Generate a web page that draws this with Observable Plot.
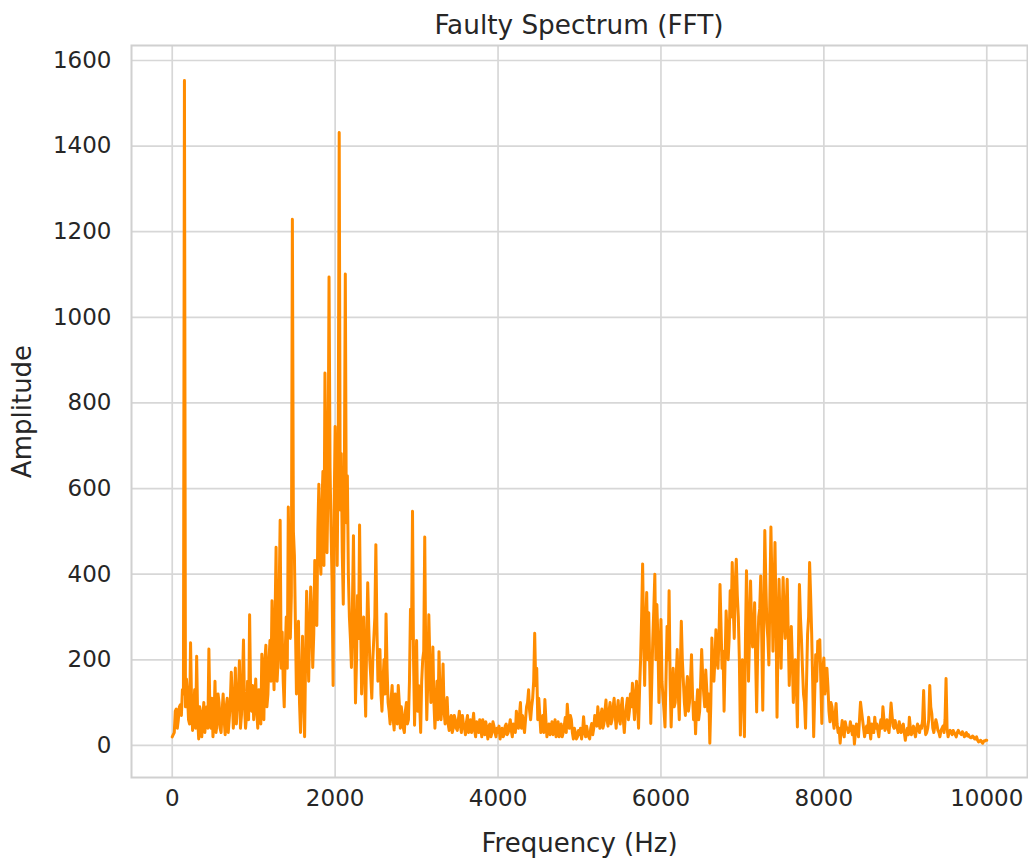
<!DOCTYPE html>
<html>
<head>
<meta charset="utf-8">
<script src="https://cdn.jsdelivr.net/npm/d3@7"></script>
<script src="https://cdn.jsdelivr.net/npm/@observablehq/plot@0.6"></script>
<style>
  html, body { margin: 0; padding: 0; background: #ffffff; }
  #wrap { width: 1028px; height: 863px; position: relative; overflow: hidden; }
  #title { height: 40px; position: relative; }
  #title span { position: absolute; left: 131px; width: 896px; top: 12px; text-align: center;
    font-family: "DejaVu Sans", sans-serif; font-size: 26.3px; color: #262626; line-height: 1; }
  #chart svg { display: block; }
</style>
</head>
<body>
<div id="wrap">
  <div id="title"><span>Faulty Spectrum (FFT)</span></div>
  <div id="chart"></div>
</div>
<script>
// Amplitude readings on a 25 Hz grid (0, 25, 50 ... Hz), one array per 1000 Hz band
const freqStep = 25;
const amp0to1k = [20,30,85,60,95,130,1553,155,60,240,35,130,208,15,75,60,30,90,225,40,
  20,150,50,100,30,120,25,110,60,171,40,181,90,198,70,246,40,150,305,80];
const amp1to2k = [60,155,40,110,213,60,234,120,245,338,130,463,200,526,265,90,300,557,250,1229,
  444,120,290,30,255,20,360,150,370,182,432,280,610,400,640,870,450,1094,500,140];
const amp2to3k = [745,420,1432,682,330,1101,630,300,182,490,99,350,515,120,300,68,380,200,110,250,
  469,150,224,80,200,307,100,50,140,36,90,140,40,70,30,100,60,318,547,47];
const amp3to4k = [245,140,30,200,487,60,305,100,230,40,150,219,60,190,50,112,35,70,40,60,
  35,80,30,50,25,70,40,30,75,20,45,60,20,40,55,15,50,30,45,20];
const amp4to5k = [30,15,40,25,50,30,60,20,45,80,40,100,70,30,90,130,60,110,262,180,
  110,30,70,107,20,50,40,25,60,35,20,50,30,65,96,40,60,15,30,20];
const amp5to6k = [25,15,67,20,30,15,51,40,60,90,40,85,50,106,45,100,60,110,40,105,
  50,110,30,90,60,120,145,60,150,40,200,424,140,357,310,51,250,400,329,100];
const amp6to7k = [294,114,43,278,361,43,180,100,224,60,290,150,70,161,100,212,60,27,130,80,
  224,120,176,80,5,251,150,270,180,376,180,80,314,200,361,427,250,435,300,24];
const amp7to8k = [200,20,408,150,384,230,333,78,300,396,82,502,286,188,510,220,474,66,388,180,
  392,250,388,140,278,100,200,43,376,247,120,40,260,427,263,20,212,243,247,51];
const amp8to9k = [204,150,137,55,90,40,98,30,5,58,20,43,30,55,25,3,50,20,101,60,
  20,45,66,15,40,66,50,20,60,90,35,60,30,99,45,58,40,55,30,50];
const amp9to10k = [12,40,66,25,45,20,50,30,40,128,25,40,140,74,30,60,35,20,40,30,
  156,20,35,25,30,20,35,28,32,20,30,25,18,22,15,20,8,12,5,10,12];

// Amplitude readings half-way between grid points (12.5, 37.5 ... Hz)
const mid0to1k = [25,80,40,90,70,120,90,120,50,100,70,40,60,90,20,100,60,40,80,110,
  60,30,120,40,80,60,90,30,100,110,80,50,130,40,150,90,70,60,120,140];
const mid1to2k = [100,80,130,50,150,200,90,200,150,220,300,150,350,180,150,220,180,400,350,500,
  280,200,100,150,110,200,250,270,300,260,350,500,450,560,420,650,600,650,380,550];
const mid2to3k = [600,680,550,450,600,520,400,250,330,280,200,250,300,220,160,250,280,160,200,300,
  280,180,120,150,120,180,80,110,60,120,50,100,90,40,80,50,150,250,200,150];
const mid3to4k = [80,100,150,220,200,150,200,120,100,90,60,120,100,80,90,50,60,30,70,40,
  60,45,70,40,55,30,60,50,35,55,30,45,60,25,35,45,20,55,30,40];
const mid4to5k = [45,30,20,45,25,45,35,50,30,55,70,40,50,60,100,80,90,150,140,60,
  70,50,30,60,40,25,55,35,20,55,35,20,45,30,60,70,30,40,15,35];
const mid5to6k = [40,30,35,45,20,40,25,70,45,60,70,40,80,60,80,50,90,70,80,60,
  90,60,70,110,80,90,100,120,90,130,300,250,280,200,180,150,320,200,250,180];
const mid6to7k = [150,80,160,200,150,120,90,160,120,180,200,100,130,80,150,120,100,90,60,150,
  160,90,130,120,100,180,200,200,250,280,220,200,260,250,300,320,380,350,200,150];
const mid7to8k = [120,250,300,250,280,260,200,220,320,250,300,380,250,350,380,350,300,250,280,300,
  300,320,260,220,200,160,140,220,300,180,100,150,300,350,150,120,150,200,150,180];
const mid8to9k = [120,180,80,100,60,70,50,40,35,30,55,40,35,40,45,30,35,60,80,40,
  35,30,40,50,30,40,35,45,40,60,45,40,60,70,40,45,30,40,45,30];
const mid9to10k = [30,25,40,35,30,40,35,45,60,50,30,60,90,40,45,50,30,35,45,60,
  40,30,30,35,25,30,30,25,28,25,22,20,18,20,15,12,10,8,10,12];

const xTicks = [0, 2000, 4000, 6000, 8000, 10000];
const yTicks = [0, 200, 400, 600, 800, 1000, 1200, 1400, 1600];

const onGrid = [].concat(amp0to1k, amp1to2k, amp2to3k, amp3to4k, amp4to5k,
  amp5to6k, amp6to7k, amp7to8k, amp8to9k, amp9to10k);
const offGrid = [].concat(mid0to1k, mid1to2k, mid2to3k, mid3to4k, mid4to5k,
  mid5to6k, mid6to7k, mid7to8k, mid8to9k, mid9to10k);
const spectrum = [];
onGrid.forEach((a, i) => {
  spectrum.push({freq: i * freqStep, amp: a});
  if (i < offGrid.length) spectrum.push({freq: i * freqStep + freqStep / 2, amp: offGrid[i]});
});

const gridColor = "#d7d7d7";
const chart = Plot.plot({
  width: 1028,
  height: 823,
  marginTop: 5,
  marginBottom: 86,
  marginLeft: 131,
  marginRight: 1,
  style: {fontFamily: "DejaVu Sans, sans-serif", fontSize: "23px", color: "#262626", background: "#ffffff"},
  x: {domain: [-500, 10500], ticks: xTicks, tickSize: 0, tickPadding: 12, tickFormat: d => String(d),
      label: "Frequency (Hz)", labelAnchor: "center", labelOffset: 74, labelArrow: "none"},
  y: {domain: [-75, 1635], ticks: yTicks, tickSize: 0, tickPadding: 20, tickFormat: d => String(d),
      label: "Amplitude", labelAnchor: "center", labelOffset: 119, labelArrow: "none"},
  marks: [
    Plot.gridX(xTicks, {stroke: gridColor, strokeOpacity: 1, strokeWidth: 1.7}),
    Plot.gridY(yTicks, {stroke: gridColor, strokeOpacity: 1, strokeWidth: 1.7}),
    Plot.frame({stroke: "#d0d0d0", strokeWidth: 2}),
    Plot.line(spectrum, {x: "freq", y: "amp", stroke: "#ff8c00", strokeWidth: 3, strokeLinejoin: "round"})
  ]
});
chart.querySelectorAll('[aria-label="x-axis label"], [aria-label="y-axis label"]').forEach(g => {
  g.setAttribute("font-size", "26");
  g.querySelectorAll("text").forEach(t => t.setAttribute("font-size", "26"));
});
document.getElementById("chart").appendChild(chart);
</script>
</body>
</html>
